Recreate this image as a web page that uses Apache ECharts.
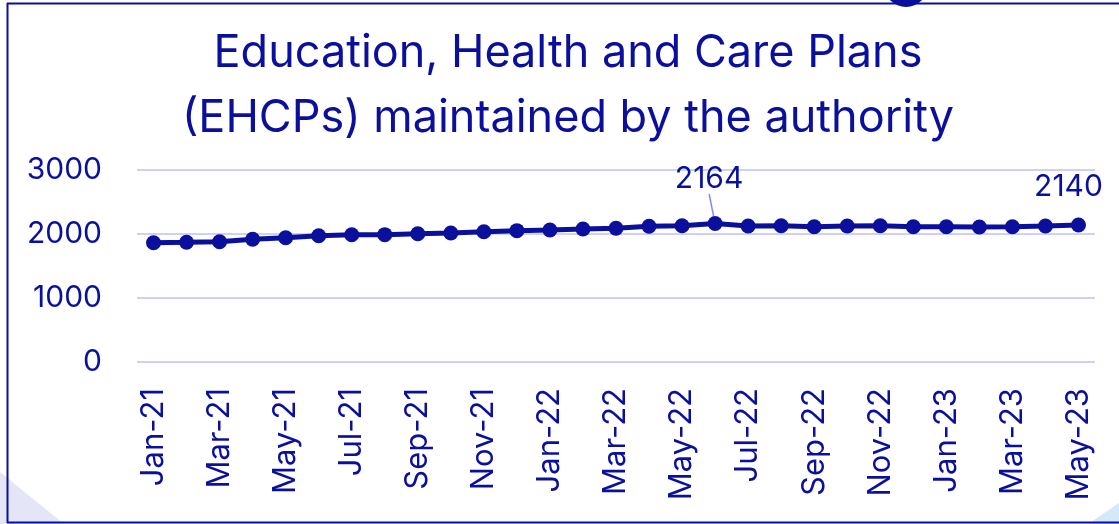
<!DOCTYPE html>
<html>
<head>
<meta charset="utf-8">
<script src="https://cdn.jsdelivr.net/npm/echarts@6/dist/echarts.min.js"></script>
<style>
  html, body { margin: 0; padding: 0; background: #fff; }
  #chart { width: 1119px; height: 524px; }
</style>
</head>
<body>
<div id="chart"></div>
<script>
// monthly EHCP counts, Jan-21 .. May-23
const months = [
  'Jan-21', 'Feb-21', 'Mar-21', 'Apr-21', 'May-21', 'Jun-21', 'Jul-21', 'Aug-21', 'Sep-21', 'Oct-21', 'Nov-21', 'Dec-21',
  'Jan-22', 'Feb-22', 'Mar-22', 'Apr-22', 'May-22', 'Jun-22', 'Jul-22', 'Aug-22', 'Sep-22', 'Oct-22', 'Nov-22', 'Dec-22',
  'Jan-23', 'Feb-23', 'Mar-23', 'Apr-23', 'May-23'
];
const ehcps = [
  1864, 1870, 1880, 1917, 1942, 1973, 1989, 1990, 2005, 2016, 2036, 2052,
  2063, 2078, 2089, 2120, 2130, 2164, 2125, 2130, 2114, 2125, 2130, 2114,
  2114, 2109, 2114, 2125, 2140
];
const labelled = ['Jun-22', 'May-23'];
const yTicks = [0, 1000, 2000, 3000];

const NAVY = '#0a0f9c';
const FONT = 'Inter, "Noto Sans", sans-serif';

const chart = echarts.init(document.getElementById('chart'), null, { renderer: 'canvas' });

const seriesData = ehcps.map((v, i) => {
  const item = { value: v };
  if (labelled.indexOf(months[i]) !== -1) {
    item.label = { show: true };
    if (months[i] === 'Jun-22') {
      item.labelLine = { show: true };
    }
  }
  return item;
});

chart.setOption({
  animation: false,
  backgroundColor: '#fff',
  title: {
    text: 'Education, Health and Care Plans\n(EHCPs) maintained by the authority',
    left: 563,
    top: 16,
    textAlign: 'center',
    textStyle: {
      color: NAVY,
      fontFamily: FONT,
      fontSize: 45,
      fontWeight: 'normal',
      lineHeight: 65
    }
  },
  graphic: [
    { type: 'polygon', z: -1, shape: { points: [[0, 472], [64, 524], [0, 524]] }, style: { fill: '#e4e5f6' } },
    { type: 'polygon', z: -1, shape: { points: [[1088, 524], [1119, 503], [1119, 524]] }, style: { fill: '#d3e9f7' } },
    { type: 'line', shape: { x1: 7, y1: 3.5, x2: 1119, y2: 3.5 }, style: { stroke: NAVY, lineWidth: 2 } },
    { type: 'line', shape: { x1: 7.5, y1: 3, x2: 7.5, y2: 523 }, style: { stroke: NAVY, lineWidth: 2 } },
    { type: 'line', shape: { x1: 7, y1: 522.5, x2: 1119, y2: 522.5 }, style: { stroke: NAVY, lineWidth: 2 } },
    { type: 'circle', shape: { cx: 906, cy: -15, r: 22 }, style: { fill: NAVY } }
  ],
  grid: {
    left: 137,
    right: 24,
    top: 170,
    bottom: 162,
    containLabel: false
  },
  xAxis: {
    type: 'category',
    data: months,
    boundaryGap: true,
    axisLine: { show: false },
    axisTick: { show: false },
    axisLabel: {
      interval: 1,
      rotate: 90,
      margin: 26,
      color: NAVY,
      fontFamily: FONT,
      fontSize: 31
    }
  },
  yAxis: {
    type: 'value',
    min: yTicks[0],
    max: yTicks[yTicks.length - 1],
    interval: 1000,
    axisLine: { show: false },
    axisTick: { show: false },
    splitLine: { lineStyle: { color: '#cdd0f7', width: 2 } },
    axisLabel: {
      margin: 35,
      color: NAVY,
      fontFamily: FONT,
      fontSize: 30,
      formatter: (v) => String(v)
    }
  },
  series: [{
    type: 'line',
    data: seriesData,
    symbol: 'circle',
    symbolSize: 15,
    lineStyle: { color: NAVY, width: 5 },
    itemStyle: { color: NAVY },
    label: {
      show: false,
      position: 'top',
      distance: 12,
      color: NAVY,
      fontFamily: FONT,
      fontSize: 30
    },
    labelLine: {
      show: false,
      lineStyle: { color: '#7f8cf2', width: 1.5 }
    },
    labelLayout: function (params) {
      if (params.dataIndex === 17) {
        return { dx: -6, dy: -10 };
      }
      return { dx: -10, dy: -4 };
    }
  }]
});
</script>
</body>
</html>
